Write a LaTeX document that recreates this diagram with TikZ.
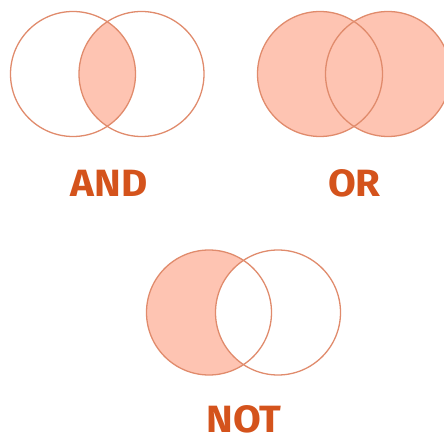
\documentclass[tikz,border=0pt]{standalone}
\usepackage{fontspec}
\setsansfont{Fira Sans}
\definecolor{setfill}{HTML}{FEC4B2}
\definecolor{setline}{HTML}{E08B6C}
\definecolor{oplabel}{HTML}{D4531C}
\tikzset{
    setcircle/.style={draw=setline, line width=1.3pt},
    oplabel/.style={anchor=base, inner sep=0pt, text=oplabel, font=\sffamily\bfseries\fontsize{38}{38}\selectfont, xscale=1.06}
}
\begin{document}
\begin{tikzpicture}[x=1pt,y=1pt]
        \useasboundingbox (0,0) rectangle (444,436);
        \clip (0,0) rectangle (444,436);

        % AND
        \coordinate (andA) at (73,362);
        \coordinate (andB) at (141.5,362);
        \begin{scope}
            \clip (andA) circle (62.5);
            \fill[setfill] (andB) circle (62.5);
        \end{scope}
        \draw[setcircle] (andA) circle (62.5);
        \draw[setcircle] (andB) circle (62.5);
        \node[oplabel] (andtext) at (109,239) {AND};

        % OR
        \coordinate (orA) at (320,362);
        \coordinate (orB) at (388,362);
        \fill[setfill] (orA) circle (62.5);
        \fill[setfill] (orB) circle (62.5);
        \draw[setcircle] (orA) circle (62.5);
        \draw[setcircle] (orB) circle (62.5);
        \node[oplabel] (ortext) at (354.5,239) {OR};

        % NOT
        \coordinate (notA) at (209,123.5);
        \coordinate (notB) at (278,123.5);
        \fill[setfill] (notA) circle (62.5);
        \fill[white] (notB) circle (62.5);
        \draw[setcircle] (notA) circle (62.5);
        \draw[setcircle] (notB) circle (62.5);
        \node[oplabel] (nottext) at (244,4) {NOT};
    \end{tikzpicture}
\end{document}
